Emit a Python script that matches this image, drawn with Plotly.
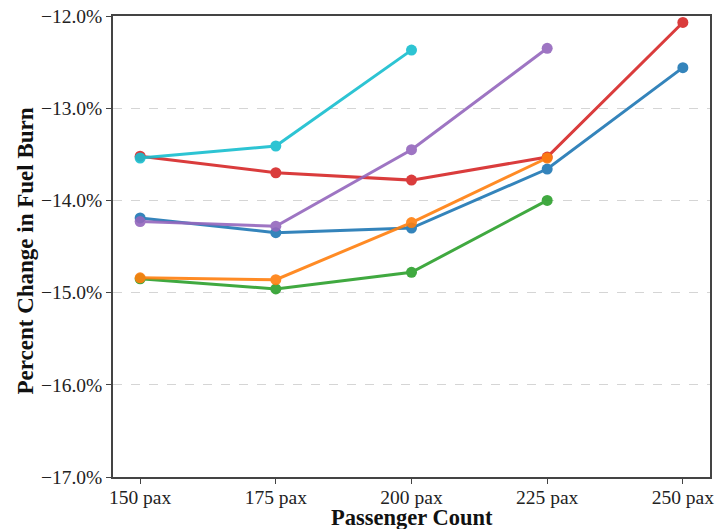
import plotly.graph_objects as go

categories = ["150 pax", "175 pax", "200 pax", "225 pax", "250 pax"]
series_names = ["Blue", "Green", "Red", "Orange", "Purple", "Cyan"]
blue = [-14.19, -14.35, -14.30, -13.66, -12.56]
green = [-14.85, -14.96, -14.78, -14.00, None]
red = [-13.52, -13.70, -13.78, -13.53, -12.07]
orange = [-14.84, -14.86, -14.24, -13.54, None]
purple = [-14.23, -14.28, -13.45, -12.35, None]
cyan = [-13.54, -13.41, -12.37, None, None]
colors = ["#1f77b4", "#2ca02c", "#d62728", "#ff7f0e", "#9467bd", "#17becf"]

y_ticks = [-17, -16, -15, -14, -13, -12]
y_ticktext = ["\u221217.0%", "\u221216.0%", "\u221215.0%", "\u221214.0%", "\u221213.0%", "\u221212.0%"]

fig = go.Figure()
for name, vals, col in zip(series_names, [blue, green, red, orange, purple, cyan], colors):
    xs = [i for i, v in enumerate(vals) if v is not None]
    ys = [v for v in vals if v is not None]
    fig.add_trace(go.Scatter(
        x=xs, y=ys, mode="lines+markers", name=name,
        line=dict(color=col, width=3), marker=dict(color=col, size=11),
        opacity=0.9, showlegend=False,
    ))

font_family = "Liberation Serif, Times New Roman, serif"
W, H = 715, 529
ml, mr, mt, mb = 113, 5, 16, 52
pw, ph = W - ml - mr, H - mt - mb
fig.update_layout(
    width=W, height=H,
    margin=dict(l=ml, r=mr, t=mt, b=mb),
    plot_bgcolor="white", paper_bgcolor="white",
    font=dict(family=font_family, color="#222", size=19.5),
    xaxis=dict(
        range=[-0.2, 4.2], tickmode="array", tickvals=list(range(len(categories))),
        ticktext=categories, showgrid=False, zeroline=False, automargin=False,
        showline=True, linecolor="#444", linewidth=1.5, mirror=True,
        ticks="outside", ticklen=5, tickcolor="#444", ticklabelstandoff=-3,
        tickfont=dict(size=19.5, family=font_family, color="#222"),
    ),
    yaxis=dict(
        range=[-17, -12], tickmode="array", tickvals=y_ticks, ticktext=y_ticktext,
        showgrid=True, gridcolor="#d5d5d5", griddash="dash", gridwidth=1, zeroline=False, automargin=False,
        showline=True, linecolor="#444", linewidth=1.5, mirror=True,
        ticks="outside", ticklen=5, tickcolor="#444",
        tickfont=dict(size=19.5, family=font_family, color="#222"),
    ),
    annotations=[
        dict(text="<b>Passenger Count</b>", xref="paper", yref="paper",
             x=0.5, y=-(517 - (H - mb)) / ph, xanchor="center", yanchor="middle",
             showarrow=False, font=dict(size=22.5, family=font_family, color="#111")),
        dict(text="<b>Percent Change in Fuel Burn</b>", xref="paper", yref="paper",
             x=-(ml - 25) / pw, y=0.5 - 5 / ph, xanchor="center", yanchor="middle", textangle=-90,
             showarrow=False, font=dict(size=23, family=font_family, color="#111")),
    ],
)
fig.write_html("out.html")
